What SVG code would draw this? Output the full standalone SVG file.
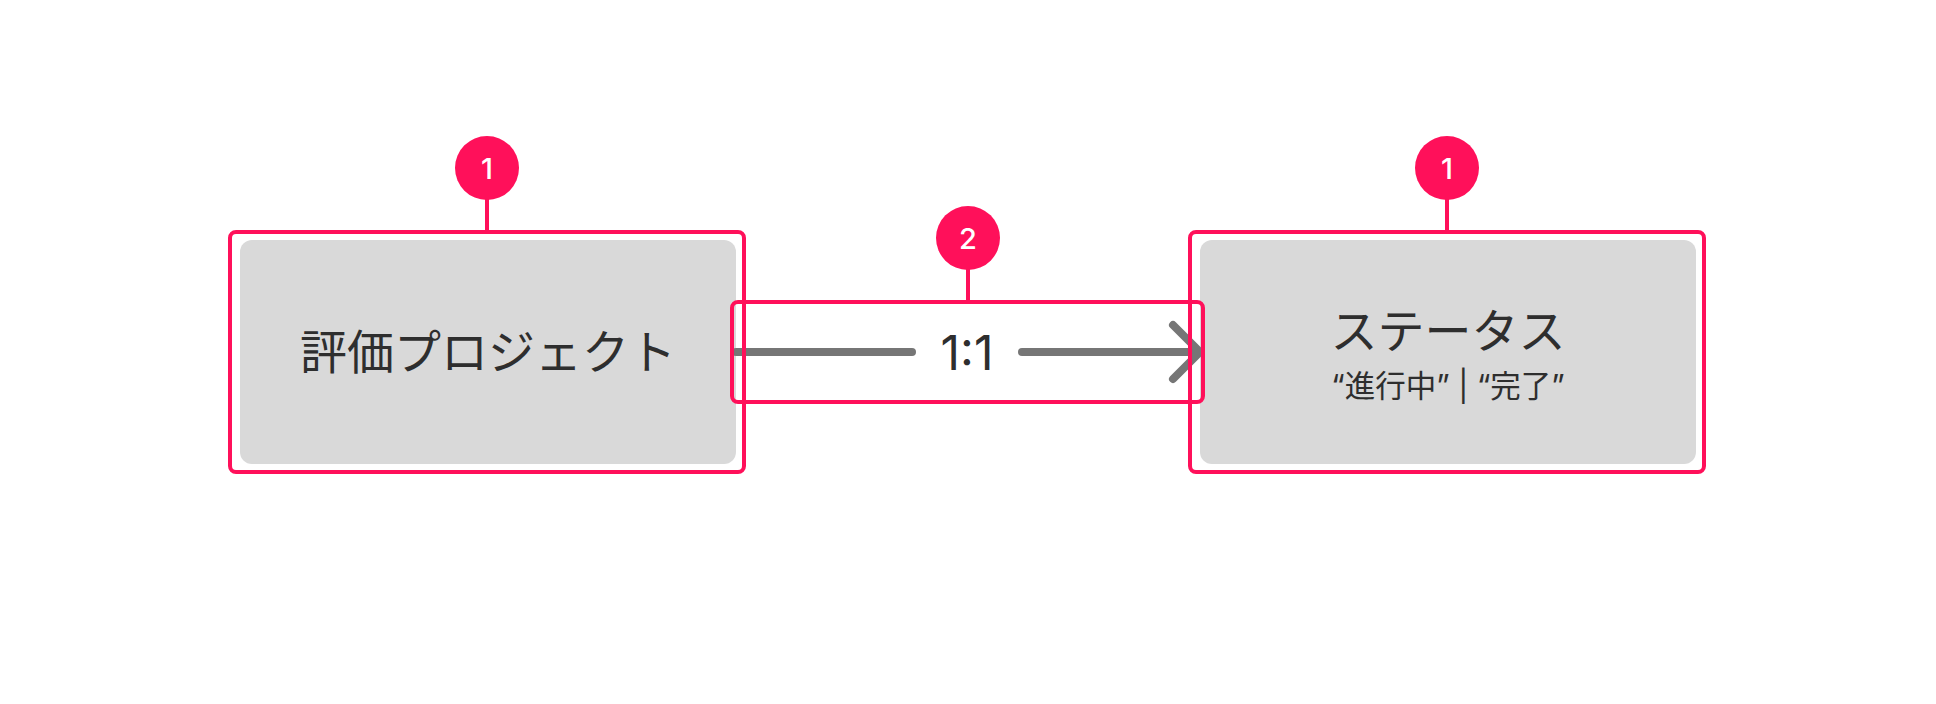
<svg xmlns="http://www.w3.org/2000/svg" width="1936" height="704" viewBox="0 0 1936 704">
  <style>
    .box { fill: #d9d9d9; }
    .label { font-family: Inter, "Noto Sans CJK JP", sans-serif; fill: #2e2e2e; text-anchor: middle; }
    .edge { stroke: #767676; stroke-width: 8; stroke-linecap: round; stroke-linejoin: round; fill: none; }
    .hl { fill: none; stroke: #ff105a; stroke-width: 4; }
    .badge { fill: #ff105a; }
    .badge-text { font-family: Inter, "Noto Sans", sans-serif; font-size: 29px; font-weight: 500; fill: #ffffff; text-anchor: middle; }
  </style>
  <rect width="1936" height="704" fill="#ffffff"/>

  <g id="node-project">
    <rect class="box" x="240" y="240" width="496" height="224" rx="12"/>
    <text class="label" x="488" y="369" font-size="47">評価プロジェクト</text>
  </g>

  <g id="node-status">
    <rect class="box" x="1200" y="240" width="496" height="224" rx="12"/>
    <text class="label" x="1448" y="348" font-size="47">ステータス</text>
    <text class="label" x="1448" y="397" font-size="30.5">“進行中” | “完了”</text>
  </g>

  <g id="connectors">
    <line class="edge" x1="736" y1="352" x2="912" y2="352"/>
    <line class="edge" x1="1022" y1="352" x2="1198" y2="352"/>
    <polyline class="edge" points="1173,325 1200,352 1173,379"/>
    <text class="label" x="967" y="370" font-size="48" font-weight="400">1:1</text>
  </g>

  <g id="annotations">
    <rect class="hl" x="230" y="232" width="514" height="240" rx="6"/>
    <line class="hl" x1="487" y1="198" x2="487" y2="232"/>
    <circle class="badge" cx="487" cy="168" r="32"/>
    <text class="badge-text" x="487" y="178.5">1</text>

    <rect class="hl" x="1190" y="232" width="514" height="240" rx="6"/>
    <line class="hl" x1="1447" y1="198" x2="1447" y2="232"/>
    <circle class="badge" cx="1447" cy="168" r="32"/>
    <text class="badge-text" x="1447" y="178.5">1</text>

    <rect class="hl" x="732" y="302" width="471" height="100" rx="6"/>
    <line class="hl" x1="968" y1="268" x2="968" y2="302"/>
    <circle class="badge" cx="968" cy="238" r="32"/>
    <text class="badge-text" x="968" y="248.5">2</text>
  </g>
</svg>
